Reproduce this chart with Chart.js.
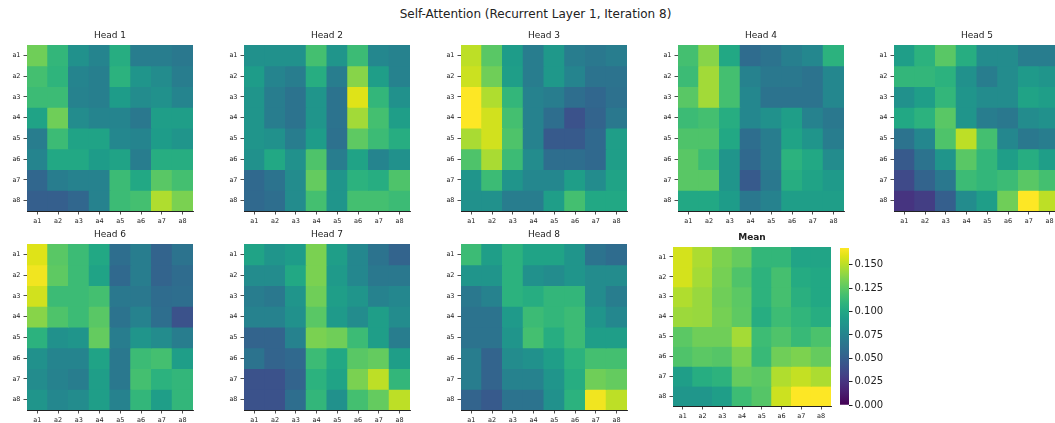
<!DOCTYPE html>
<html>
<head>
<meta charset="utf-8">
<script src="https://cdn.jsdelivr.net/npm/chart.js@4/dist/chart.umd.min.js"></script>
<style>
html,body{margin:0;padding:0;background:#fff;width:1055px;height:423px;overflow:hidden;position:relative;}
canvas{position:absolute;}
#title{position:absolute;left:0;width:1071px;top:7px;text-align:center;font:12px "DejaVu Sans";color:#222;}
</style>
</head>
<body>
<div id="title">Self-Attention (Recurrent Layer 1, Iteration 8)</div>
<script>
// ---------- DATA ----------
const cats = ['a1','a2','a3','a4','a5','a6','a7','a8'];
const headTitles = ['Head 1','Head 2','Head 3','Head 4','Head 5','Head 6','Head 7','Head 8'];
// per-head attention (normalised per head, 0..1), rows = query a1..a8, cols = key a1..a8
const head1 = [
 [0.78,0.66,0.50,0.45,0.62,0.42,0.42,0.40],
 [0.70,0.65,0.45,0.43,0.64,0.52,0.48,0.42],
 [0.68,0.68,0.44,0.43,0.55,0.48,0.50,0.45],
 [0.58,0.78,0.48,0.45,0.45,0.40,0.56,0.56],
 [0.42,0.68,0.58,0.58,0.46,0.45,0.55,0.52],
 [0.45,0.60,0.60,0.55,0.58,0.42,0.62,0.62],
 [0.33,0.42,0.44,0.44,0.68,0.60,0.74,0.70],
 [0.30,0.30,0.33,0.44,0.68,0.70,0.88,0.80]];
const head2 = [
 [0.50,0.50,0.50,0.70,0.52,0.68,0.46,0.44],
 [0.55,0.45,0.42,0.62,0.42,0.82,0.56,0.44],
 [0.52,0.42,0.38,0.52,0.38,0.95,0.66,0.50],
 [0.52,0.42,0.38,0.52,0.38,0.86,0.70,0.56],
 [0.52,0.50,0.42,0.55,0.37,0.75,0.68,0.62],
 [0.50,0.60,0.50,0.72,0.42,0.58,0.45,0.50],
 [0.34,0.38,0.48,0.76,0.52,0.64,0.62,0.72],
 [0.34,0.36,0.48,0.70,0.52,0.70,0.70,0.68]];
const head3 = [
 [0.90,0.74,0.55,0.42,0.53,0.42,0.40,0.42],
 [0.92,0.78,0.56,0.42,0.53,0.45,0.38,0.38],
 [1.00,0.88,0.66,0.44,0.42,0.36,0.33,0.37],
 [1.00,0.93,0.70,0.44,0.36,0.25,0.32,0.40],
 [0.87,0.93,0.72,0.44,0.28,0.28,0.34,0.56],
 [0.72,0.87,0.68,0.48,0.36,0.36,0.34,0.56],
 [0.52,0.68,0.52,0.46,0.46,0.56,0.48,0.58],
 [0.50,0.50,0.42,0.42,0.56,0.70,0.60,0.60]];
const head4 = [
 [0.70,0.82,0.60,0.35,0.38,0.43,0.46,0.64],
 [0.68,0.86,0.70,0.44,0.40,0.40,0.38,0.46],
 [0.74,0.86,0.70,0.46,0.38,0.38,0.38,0.46],
 [0.68,0.70,0.62,0.46,0.50,0.56,0.44,0.40],
 [0.72,0.72,0.60,0.36,0.42,0.58,0.52,0.42],
 [0.74,0.68,0.52,0.34,0.42,0.64,0.60,0.48],
 [0.74,0.74,0.52,0.28,0.40,0.62,0.58,0.54],
 [0.60,0.60,0.55,0.40,0.44,0.56,0.56,0.56]];
const head5 = [
 [0.56,0.64,0.74,0.62,0.48,0.48,0.42,0.42],
 [0.66,0.66,0.64,0.50,0.42,0.48,0.54,0.52],
 [0.50,0.56,0.66,0.52,0.48,0.48,0.58,0.56],
 [0.60,0.64,0.74,0.52,0.42,0.40,0.48,0.50],
 [0.38,0.46,0.72,0.90,0.70,0.46,0.40,0.42],
 [0.28,0.38,0.52,0.74,0.66,0.56,0.62,0.56],
 [0.22,0.32,0.40,0.68,0.66,0.68,0.74,0.70],
 [0.15,0.18,0.30,0.48,0.56,0.78,1.00,0.90]];
const head6 = [
 [0.95,0.74,0.68,0.60,0.36,0.42,0.32,0.38],
 [0.98,0.75,0.68,0.58,0.34,0.42,0.32,0.35],
 [0.93,0.68,0.68,0.70,0.40,0.40,0.35,0.36],
 [0.82,0.72,0.68,0.74,0.38,0.44,0.36,0.25],
 [0.64,0.50,0.52,0.76,0.42,0.52,0.48,0.42],
 [0.50,0.45,0.45,0.58,0.40,0.68,0.70,0.56],
 [0.48,0.44,0.42,0.56,0.40,0.70,0.64,0.66],
 [0.52,0.46,0.48,0.56,0.44,0.66,0.56,0.66]];
const head7 = [
 [0.58,0.52,0.55,0.80,0.56,0.46,0.38,0.32],
 [0.48,0.48,0.60,0.80,0.54,0.46,0.40,0.40],
 [0.42,0.40,0.52,0.78,0.56,0.52,0.44,0.46],
 [0.44,0.44,0.50,0.74,0.54,0.48,0.56,0.48],
 [0.32,0.32,0.44,0.80,0.78,0.68,0.56,0.42],
 [0.38,0.32,0.34,0.68,0.60,0.74,0.76,0.56],
 [0.25,0.25,0.32,0.64,0.58,0.80,0.90,0.66],
 [0.25,0.25,0.36,0.66,0.50,0.70,0.76,0.90]];
const head8 = [
 [0.68,0.56,0.64,0.58,0.58,0.52,0.38,0.35],
 [0.52,0.52,0.64,0.50,0.48,0.52,0.48,0.48],
 [0.40,0.44,0.64,0.62,0.66,0.66,0.48,0.42],
 [0.38,0.38,0.54,0.68,0.66,0.68,0.52,0.46],
 [0.38,0.38,0.52,0.70,0.62,0.68,0.56,0.56],
 [0.42,0.32,0.48,0.50,0.56,0.64,0.70,0.70],
 [0.42,0.32,0.44,0.44,0.52,0.62,0.78,0.76],
 [0.32,0.28,0.38,0.38,0.50,0.64,0.98,0.90]];
// mean attention weights
const meanAttn = [
 [0.157,0.147,0.135,0.128,0.111,0.111,0.098,0.098],
 [0.157,0.145,0.133,0.121,0.108,0.118,0.103,0.101],
 [0.148,0.142,0.131,0.125,0.108,0.118,0.106,0.101],
 [0.143,0.142,0.133,0.126,0.104,0.115,0.110,0.104],
 [0.125,0.131,0.131,0.145,0.115,0.121,0.113,0.120],
 [0.121,0.125,0.123,0.135,0.113,0.131,0.135,0.128],
 [0.094,0.104,0.108,0.128,0.125,0.148,0.153,0.147],
 [0.088,0.088,0.094,0.115,0.123,0.155,0.168,0.168]];
const colorbarTicks = [0,0.025,0.05,0.075,0.1,0.125,0.15];

// ---------- COLOUR MAP ----------
const VIR = ['#440154','#471365','#482475','#463480','#414487','#3b528b','#355f8d','#2f6c8e','#2a788e','#25848e','#21918c','#1e9c89','#22a884','#2fb47c','#44bf70','#5ec962','#7ad151','#9bd93c','#bddf26','#dfe318','#fde725'];
const VIRrgb = VIR.map(h=>[parseInt(h.slice(1,3),16),parseInt(h.slice(3,5),16),parseInt(h.slice(5,7),16)]);
function viridis(t){
  t = Math.max(0,Math.min(1,t));
  const p = t*(VIRrgb.length-1), i = Math.min(Math.floor(p), VIRrgb.length-2), f = p-i;
  const a = VIRrgb[i], b = VIRrgb[i+1];
  return `rgb(${Math.round(a[0]+(b[0]-a[0])*f)},${Math.round(a[1]+(b[1]-a[1])*f)},${Math.round(a[2]+(b[2]-a[2])*f)})`;
}

const FONT = 'DejaVu Sans';
const INK = '#222';
const GRID = 'rgba(255,255,255,0.18)';

function titlePlugin(text, bold){
  return {
    id:'heatTitle',
    afterDraw(chart){
      const a = chart.chartArea, c = chart.ctx;
      c.save();
      c.font = (bold?'bold ':'') + '9px "' + FONT + '"';
      c.fillStyle = INK; c.textAlign='center'; c.textBaseline='middle';
      c.fillText(text, (a.left+a.right)/2, a.top - 9);
      c.restore();
    }
  };
}

function makeHeat(vals, vmin, vmax, title, bold, areaLeft, areaTop, w, h){
  const YW=30, T=16, XH=20, R=4;
  const cv = document.createElement('canvas');
  cv.width = YW+w+R; cv.height = T+h+XH;
  cv.style.left = (areaLeft-YW)+'px'; cv.style.top = (areaTop-T)+'px';
  document.body.appendChild(cv);
  const datasets = vals.map((row, r) => ({
    label: cats[r],
    data: row.map(() => 1),
    backgroundColor: row.map(v => viridis((v-vmin)/(vmax-vmin))),
    borderWidth: 0, barPercentage: 1, categoryPercentage: 1, inflateAmount: 0.5
  }));
  const tickFont = {family:FONT, size:6.5};
  new Chart(cv, {
    type:'bar',
    data:{labels:cats, datasets},
    options:{
      responsive:false, animation:false,
      layout:{padding:{top:T,right:R,left:0,bottom:0}},
      plugins:{legend:{display:false}, tooltip:{enabled:false}},
      scales:{
        x:{type:'category', stacked:true, offset:true, z:1,
           grid:{offset:false, color:GRID, lineWidth:0.8, tickColor:INK, tickLength:3.5},
           border:{display:true, color:INK, width:1},
           ticks:{font:tickFont, color:INK, padding:2.5, maxRotation:0, autoSkip:false},
           afterFit(s){ s.height = XH; }},
        y:{type:'linear', stacked:true, min:0, max:cats.length, reverse:true, z:1,
           afterBuildTicks(s){ s.ticks = cats.map((c,i)=>({value:i+0.5})); },
           grid:{color:GRID, lineWidth:0.8, tickColor:INK, tickLength:3.5},
           border:{display:true, color:INK, width:1},
           ticks:{font:tickFont, color:INK, padding:3, autoSkip:false, callback:(v)=>cats[Math.floor(v)]},
           afterFit(s){ s.width = YW; }}
      }
    },
    plugins:[titlePlugin(title, bold)]
  });
}

const heads = [head1,head2,head3,head4,head5,head6,head7,head8];
const colLefts = [27,244,461,678,894];
const rowTops = [45,244];
heads.forEach((hv, i) => {
  const r = Math.floor(i/5), c = i%5;
  makeHeat(hv, 0, 1, headTitles[i], false, colLefts[c], rowTops[r], 166, 166);
});
const meanMax = Math.max(...meanAttn.flat());
makeHeat(meanAttn, 0, meanMax, 'Mean', true, 673, 247, 158, 159);

// colorbar
(function(){
  const YW=56, PT=6, PB=6, W=9, H=161;
  const cv = document.createElement('canvas');
  cv.width = W+YW; cv.height = PT+H+PB;
  cv.style.left = '840px'; cv.style.top = (246-PT)+'px';
  document.body.appendChild(cv);
  new Chart(cv, {
    type:'bar',
    data:{labels:[''], datasets:[{
      data:[meanMax],
      barPercentage:1, categoryPercentage:1, borderWidth:0,
      backgroundColor(ctx){
        const a = ctx.chart.chartArea; if(!a) return '#888';
        const g = ctx.chart.ctx.createLinearGradient(0,a.bottom,0,a.top);
        for(let i=0;i<=40;i++) g.addColorStop(i/40, viridis(i/40));
        return g;
      }
    }]},
    options:{
      responsive:false, animation:false,
      layout:{padding:{top:PT,bottom:PB,left:0,right:0}},
      plugins:{legend:{display:false}, tooltip:{enabled:false}},
      scales:{
        x:{display:false},
        y:{position:'right', min:0, max:meanMax,
           afterBuildTicks(s){ s.ticks = colorbarTicks.map(v=>({value:v})); },
           grid:{drawOnChartArea:false, tickColor:INK, tickLength:3.5},
           border:{display:false},
           ticks:{font:{family:FONT,size:10}, color:INK, padding:2, callback:(v)=>v.toFixed(3)},
           afterFit(s){ s.width = YW; }}
      }
    }
  });
})();
</script>
</body>
</html>
